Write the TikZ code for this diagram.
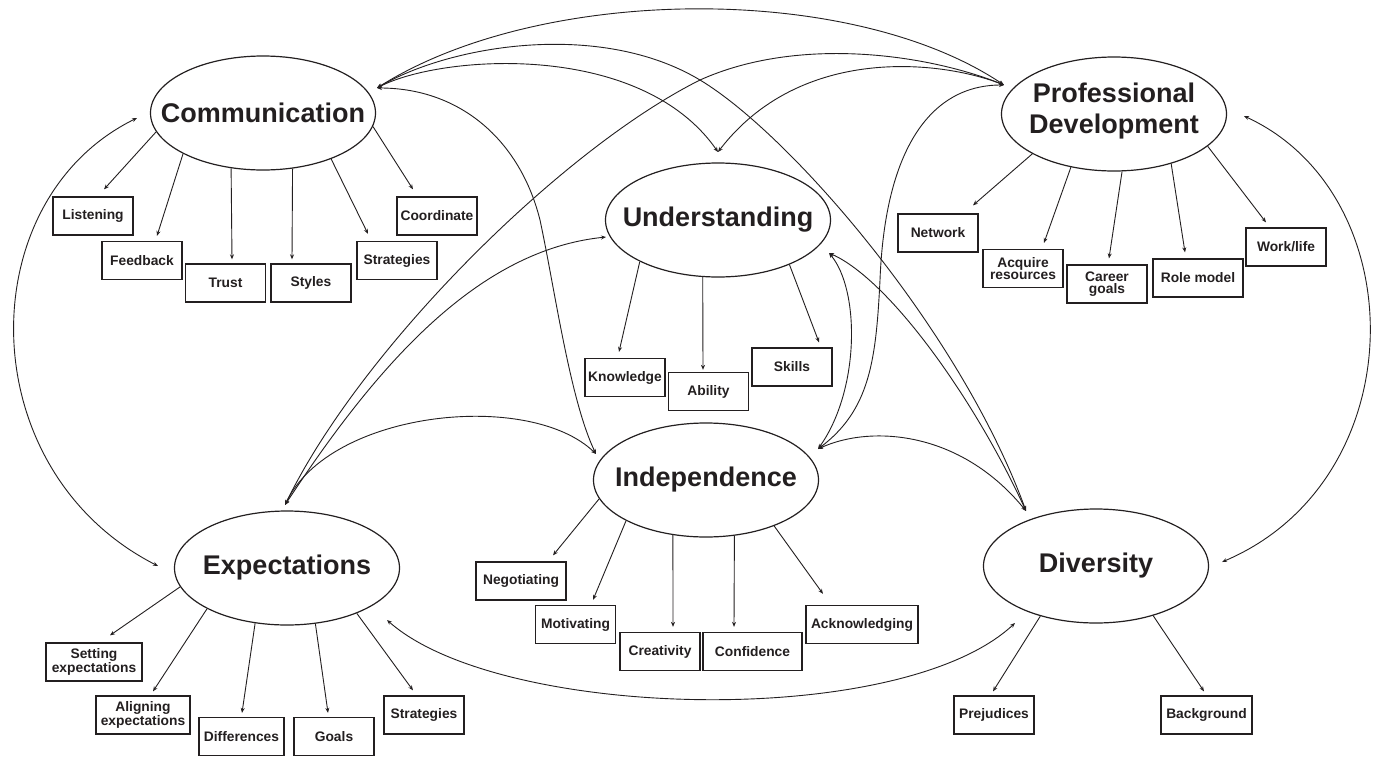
\documentclass[tikz,border=0pt]{standalone}
\usepackage{fontspec}
\setmainfont{Liberation Sans}
\usetikzlibrary{shapes.geometric,arrows.meta,calc}
\definecolor{ink}{HTML}{231F20}
\begin{document}
\begin{tikzpicture}[x=1pt,y=-1pt,
  concept/.style={ellipse,draw=ink,line width=1.2pt,minimum width=225pt,minimum height=114pt,inner sep=0pt},
  ctext/.style={font=\fontsize{27}{31}\selectfont\bfseries,text=ink,align=center,inner sep=0pt},
  box/.style={draw=ink,line width=1.3pt,minimum width=80pt,minimum height=38pt,inner sep=2pt,
    font=\fontsize{13.8}{12.5}\selectfont\bfseries,text=ink,align=center},
  tip/.tip={Stealth[length=5pt,width=4pt]},
  sub/.style={draw=ink,line width=0.9pt,-tip},
  conn/.style={draw=ink,line width=0.9pt,tip-tip}]
\path[fill=white] (0,0) rectangle (1377,756);
\useasboundingbox (0,0) rectangle (1377,756);

% concepts
\node[concept] (comm) at (263,113) {};
\node[ctext] (commT) at (comm.center) {Communication};
\node[concept] (pd) at (1114,114) {};
\node[ctext] (pdT) at (1114,111) {Professional\\Development};
\node[concept] (und) at (718,220) {};
\node[ctext] (undT) at (und.center) {Understanding};
\node[concept] (ind) at (706,480) {};
\node[ctext] (indT) at (ind.center) {Independence};
\node[concept] (exp) at (287,568) {};
\node[ctext] (expT) at (exp.center) {Expectations};
\node[concept] (div) at (1096,566) {};
\node[ctext] (divT) at (div.center) {Diversity};

% boxes
\node[box] (listen) at (93,216) {Listening};
\node[box] (feed) at (142,260.5) {Feedback};
\node[box] (trust) at (225.5,283) {Trust};
\node[box] (styles) at (311,283) {Styles};
\node[box] (cstrat) at (397,260.5) {Strategies};
\node[box] (coord) at (437,216) {Coordinate};
\node[box] (know) at (625,377.5) {Knowledge};
\node[box] (abil) at (708.5,391.5) {Ability};
\node[box] (skills) at (792,367) {Skills};
\node[box] (netw) at (938,233) {Network};
\node[box] (acq) at (1023,268.5) {Acquire\\resources};
\node[box] (career) at (1107,284) {Career\\goals};
\node[box,minimum width=90pt] (role) at (1198,278) {Role model};
\node[box] (work) at (1286,247) {Work/life};
\node[box,minimum width=90pt] (nego) at (521,581) {Negotiating};
\node[box] (moti) at (575.5,624.5) {Motivating};
\node[box] (crea) at (660,651.5) {Creativity};
\node[box,minimum width=99pt] (conf) at (752.5,651.5) {Confidence};
\node[box,minimum width=112pt] (ack) at (862,624.5) {Acknowledging};
\node[box,minimum width=96pt] (sett) at (94,662) {Setting\\expectations};
\node[box,minimum width=94pt] (aligne) at (143,715) {Aligning\\expectations};
\node[box,minimum width=85pt] (diff) at (241.5,736.5) {Differences};
\node[box] (goals) at (334,736.5) {Goals};
\node[box] (estrat) at (424,715) {Strategies};
\node[box] (prej) at (994,715) {Prejudices};
\node[box,minimum width=91pt] (backg) at (1206.5,715) {Background};

% sub arrows
\draw[sub] (comm.190) -- ([shift={(11,-7)}]listen.north);
\draw[sub] (comm.207) -- ([shift={(15,-5)}]feed.north);
\draw[sub] (comm.240) -- ([shift={(6.5,-4)}]trust.north);
\draw[sub] (comm.298) -- ([shift={(-19,-4)}]styles.north);
\draw[sub] (comm.326) -- ([shift={(-29,-7)}]cstrat.north);
\draw[sub] (comm.353) -- ([shift={(-24,-7)}]coord.north);
\draw[sub] (und.208) -- ([shift={(-6,-6)}]know.north);
\draw[sub] (und.255) -- ([shift={(-5.5,-2)}]abil.north);
\draw[sub] (und.328) -- ([shift={(27,-5)}]skills.north);
\draw[sub] (pd.206) -- ([shift={(35,-8)}]netw.north);
\draw[sub] (pd.231) -- ([shift={(21,-6)}]acq.north);
\draw[sub] (pd.278) -- ([shift={(2,-6)}]career.north);
\draw[sub] (pd.319) -- ([shift={(-13,-6)}]role.north);
\draw[sub] (pd.341) -- ([shift={(-20,-5)}]work.north);
\draw[sub] (ind.190) -- ([shift={(32,-6)}]nego.north);
\draw[sub] (ind.207) -- ([shift={(17.5,-5)}]moti.north);
\draw[sub] (ind.239) -- ([shift={(13,-5)}]crea.north);
\draw[sub] (ind.297) -- ([shift={(-18.5,-5)}]conf.north);
\draw[sub] (ind.326) -- ([shift={(-39,-11)}]ack.north);
\draw[sub] (exp.190) -- ([shift={(16,-7)}]sett.north);
\draw[sub] (exp.207) -- ([shift={(10,-4)}]aligne.north);
\draw[sub] (exp.240) -- ([shift={(0.5,-4)}]diff.north);
\draw[sub] (exp.297) -- ([shift={(-6,-4)}]goals.north);
\draw[sub] (exp.327) -- ([shift={(-11,-5)}]estrat.north);
\draw[sub] (div.222) -- ([shift={(-1,-4)}]prej.north);
\draw[sub] (div.319) -- ([shift={(-2.5,-4)}]backg.north);

% connection points
\coordinate (cP) at ([shift={(114,-25)}]comm.center);
\coordinate (cL) at ([shift={(-126,5)}]comm.center);
\coordinate (pP) at ([shift={(-110,-29)}]pd.center);
\coordinate (pR) at ([shift={(130,2)}]pd.center);
\coordinate (uT) at ([shift={(0,-68)}]und.center);
\coordinate (uL) at ([shift={(-112,17)}]und.center);
\coordinate (uR) at ([shift={(111,33)}]und.center);
\coordinate (iL) at ([shift={(-110,-26)}]ind.center);
\coordinate (iR) at ([shift={(112,-31)}]ind.center);
\coordinate (eT) at ([shift={(-2,-63)}]exp.center);
\coordinate (eL) at ([shift={(-129,-2)}]exp.center);
\coordinate (eR) at ([shift={(100,52)}]exp.center);
\coordinate (dT) at ([shift={(-70,-55)}]div.center);
\coordinate (dR) at ([shift={(126,-4)}]div.center);
\coordinate (dB) at ([shift={(-81,57)}]div.center);

% concept connectors
\draw[conn] (cP) .. controls (540,-15) and (850,-18) .. (pP);
\draw[conn] (cP) .. controls (450,45) and (600,20) .. (700,80) .. controls (790,134) and (960,330) .. (dT);
\draw[conn] (cP) .. controls (440,55) and (640,40) .. (uT);
\draw[conn] (cP) .. controls (460,88) and (520,140) .. (540,220) .. controls (555,290) and (570,400) .. (iL);
\draw[conn] (pP) .. controls (940,60) and (800,45) .. (uT);
\draw[conn] (pP) .. controls (930,55) and (800,35) .. (700,80) .. controls (560,150) and (360,350) .. (eT);
\draw[conn] (pP) .. controls (930,85) and (885,150) .. (880,280) .. controls (876,360) and (870,410) .. (iR);
\draw[conn] (eT) .. controls (380,360) and (480,250) .. (uL);
\draw[conn] (eT) .. controls (330,410) and (530,390) .. (iL);
\draw[conn] (uR) .. controls (860,290) and (860,390) .. (iR);
\draw[conn] (uR) .. controls (890,280) and (975,400) .. (dT);
\draw[conn] (iR) .. controls (870,425) and (960,430) .. (dT);
\draw[conn] (cL) .. controls (-30,200) and (-30,470) .. (eL);
\draw[conn] (pR) .. controls (1415,195) and (1415,480) .. (dR);
\draw[conn] (eR) .. controls (500,720) and (900,730) .. (dB);
\end{tikzpicture}
\end{document}
